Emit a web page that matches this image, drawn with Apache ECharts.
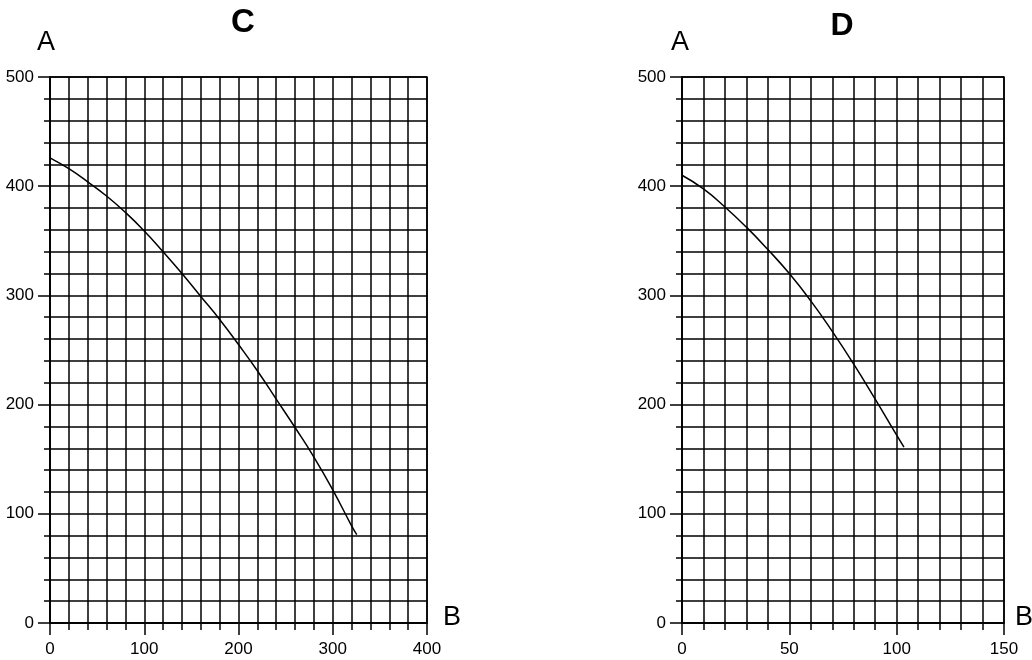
<!DOCTYPE html>
<html>
<head>
<meta charset="utf-8">
<script src="https://cdn.jsdelivr.net/npm/echarts@6/dist/echarts.min.js"></script>
<style>html,body{margin:0;padding:0;background:#fff}#c{width:1032px;height:660px}</style>
</head>
<body>
<div id="c"></div>
<script>
// Panel C
const cB = [0, 20, 40, 60, 80, 100, 120, 140, 160, 180, 200, 220, 240, 260, 280, 300, 320, 325.5];
const cA = [426, 416, 404, 391, 376, 359, 340, 320, 299, 278, 255, 231, 205, 179, 152, 122, 89, 81];
// Panel D
const dB = [0, 10, 20, 30, 40, 50, 60, 70, 80, 90, 100, 103.4];
const dA = [410, 397.5, 381, 362.5, 342, 320, 295, 267, 237, 205, 172, 161];
const titles = ['C', 'D'];
const yName = 'A';
const xName = 'B';

const FONT = 'Liberation Sans, Arial, Helvetica, sans-serif';
const BLK = '#000';
const chart = echarts.init(document.getElementById('c'), null, {renderer: 'canvas'});

function xAxisDef(idx, max, interval) {
  return {
    type: 'value', gridIndex: idx, min: 0, max: max, interval: interval,
    axisLine: {show: true, onZero: false, lineStyle: {color: BLK, width: 1.5}},
    axisTick: {show: true, length: 12, lineStyle: {color: BLK, width: 1.5}},
    minorTick: {show: true, splitNumber: 5, length: 7, lineStyle: {color: BLK, width: 1.5}},
    splitLine: {show: true, lineStyle: {color: BLK, width: 1.5}},
    minorSplitLine: {show: true, lineStyle: {color: BLK, width: 1.5}},
    axisLabel: {fontSize: 17, color: BLK, fontFamily: FONT, margin: 18, showMinLabel: true, showMaxLabel: true}
  };
}
function yAxisDef(idx) {
  return {
    type: 'value', gridIndex: idx, min: 0, max: 500, interval: 100,
    axisLine: {show: true, onZero: false, lineStyle: {color: BLK, width: 1.5}},
    axisTick: {show: true, length: 12, lineStyle: {color: BLK, width: 1.5}},
    minorTick: {show: true, splitNumber: 5, length: 6, lineStyle: {color: BLK, width: 1.5}},
    splitLine: {show: true, lineStyle: {color: BLK, width: 1.5}},
    minorSplitLine: {show: true, lineStyle: {color: BLK, width: 1.5}},
    axisLabel: {fontSize: 17, color: BLK, fontFamily: FONT, margin: 16}
  };
}

const pairsC = cB.map((b, i) => [b, cA[i]]);
const pairsD = dB.map((b, i) => [b, dA[i]]);

const txt = (t, x, y, size, weight) => ({
  type: 'text', x: x, y: y,
  style: {text: t, fontSize: size, fontWeight: weight, fontFamily: FONT, fill: BLK, textAlign: 'center', textVerticalAlign: 'middle'}
});

chart.setOption({
  animation: false,
  backgroundColor: '#fff',
  grid: [
    {left: 50, top: 77, width: 377, height: 546, show: true, borderColor: BLK, borderWidth: 1.5, backgroundColor: 'transparent'},
    {left: 682, top: 77, width: 322, height: 546, show: true, borderColor: BLK, borderWidth: 1.5, backgroundColor: 'transparent'}
  ],
  xAxis: [xAxisDef(0, 400, 100), xAxisDef(1, 150, 50)],
  yAxis: [yAxisDef(0), yAxisDef(1)],
  series: [
    {type: 'line', xAxisIndex: 0, yAxisIndex: 0, data: pairsC, smooth: true, showSymbol: false, symbol: 'none',
     lineStyle: {color: BLK, width: 1.5}, z: 5},
    {type: 'line', xAxisIndex: 1, yAxisIndex: 1, data: pairsD, smooth: true, showSymbol: false, symbol: 'none',
     lineStyle: {color: BLK, width: 1.5}, z: 5}
  ],
  graphic: [
    txt(titles[0], 243, 23, 33, 'bold'),
    txt(titles[1], 842, 26, 32, 'bold'),
    txt(yName, 46, 43, 27, 'normal'),
    txt(yName, 680, 43, 27, 'normal'),
    txt(xName, 452, 618, 27, 'normal'),
    txt(xName, 1024, 618, 27, 'normal')
  ]
});
</script>
</body>
</html>
